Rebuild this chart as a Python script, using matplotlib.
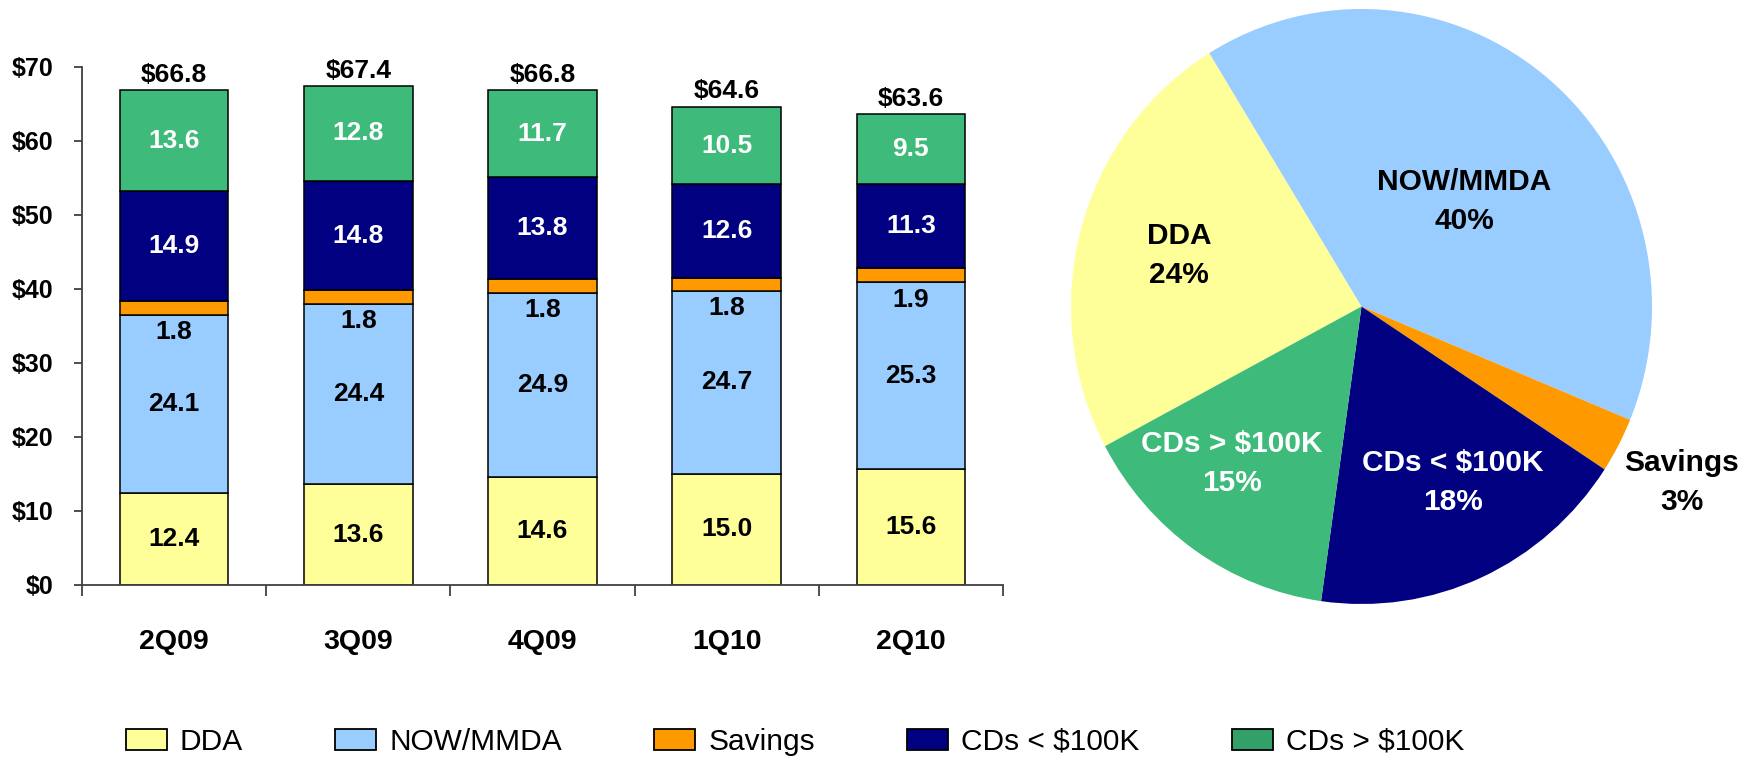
import matplotlib
matplotlib.use("Agg")
import matplotlib.pyplot as plt
from matplotlib.patches import Patch
import numpy as np

plt.rcParams['font.family'] = ['Liberation Sans', 'DejaVu Sans']

quarters = ["2Q09", "3Q09", "4Q09", "1Q10", "2Q10"]
series_names = ["DDA", "NOW/MMDA", "Savings", "CDs < $100K", "CDs > $100K"]
dda = [12.4, 13.6, 14.6, 15.0, 15.6]
now_mmda = [24.1, 24.4, 24.9, 24.7, 25.3]
savings = [1.8, 1.8, 1.8, 1.8, 1.9]
cds_small = [14.9, 14.8, 13.8, 12.6, 11.3]
cds_large = [13.6, 12.8, 11.7, 10.5, 9.5]
y_ticks = [0, 10, 20, 30, 40, 50, 60, 70]

pie_labels = ["DDA", "NOW/MMDA", "Savings", "CDs < $100K", "CDs > $100K"]
pie_pct = [24, 40, 3, 18, 15]

colors = ["#FFFF99", "#99CCFF", "#FF9900", "#000080", "#3EBB7B"]
legend_colors = ["#FFFF99", "#99CCFF", "#FF9900", "#000080", "#33A06A"]
text_colors = ["black", "black", "black", "white", "white"]

W, H = 1753, 763
fig = plt.figure(figsize=(W / 100, H / 100), dpi=100)

def px_axes(l, t, r, b):
    return fig.add_axes([l / W, 1 - b / H, (r - l) / W, (b - t) / H])

# ---------------- Bar chart ----------------
ax = px_axes(82, 66.7, 1003, 585)
series = [dda, now_mmda, savings, cds_small, cds_large]
x = np.arange(len(quarters))
bottom = np.zeros(len(quarters))
bw = 0.59
for i, vals in enumerate(series):
    vals = np.array(vals)
    ax.bar(x, vals, bw, bottom=bottom, color=colors[i], edgecolor="black",
           linewidth=1.1, zorder=2)
    for j in range(len(x)):
        if i == 2:
            # savings label sits just below the savings segment
            ax.annotate(f"{vals[j]:.1f}", (x[j], bottom[j]), xytext=(0, -12.5),
                        textcoords="offset points", ha="center", va="center",
                        fontsize=19, fontweight="bold", color="black", zorder=3)
        else:
            ax.text(x[j], bottom[j] + vals[j] / 2, f"{vals[j]:.1f}", ha="center",
                    va="center", fontsize=19, fontweight="bold",
                    color=text_colors[i], zorder=3)
    bottom = bottom + vals

for j in range(len(x)):
    ax.annotate(f"${bottom[j]:.1f}", (x[j], bottom[j]), xytext=(0, 11),
                textcoords="offset points", ha="center", va="center",
                fontsize=19, fontweight="bold", color="black")

ax.set_xlim(-0.5, len(quarters) - 0.5)
ax.set_ylim(0, 70)
ax.set_yticks(y_ticks)
ax.set_yticklabels([f"${v}" for v in y_ticks], fontsize=18, fontweight="bold")
ax.set_xticks(x)
ax.set_xticklabels(quarters, fontsize=20.5, fontweight="bold")
ax.set_xticks(np.arange(-0.5, len(quarters), 1.0), minor=True)
ax.tick_params(axis="x", which="major", length=0, pad=32)
ax.tick_params(axis="x", which="minor", length=8, width=1.3, color="#404040")
ax.tick_params(axis="y", length=5.5, width=1.3, color="#404040", pad=15)
for s in ["top", "right"]:
    ax.spines[s].set_visible(False)
for s in ["left", "bottom"]:
    ax.spines[s].set_color("#404040")
    ax.spines[s].set_linewidth(1.3)
ax.spines["bottom"].set_zorder(4)

# ---------------- Pie chart ----------------
pax = px_axes(1071, 9, 1652, 604)
wedges, _ = pax.pie(pie_pct, colors=colors, startangle=208, counterclock=False,
                    radius=1, wedgeprops=dict(linewidth=0))
pax.set_aspect("auto")
pax.set_xlim(-1, 1)
pax.set_ylim(-1, 1)
pax.axis("off")
label_r = [0.65, 0.50, 1.25, 0.67, 0.69]
label_dang = [0.0, -4.6, -0.4, 3.6, -5.3]
for w, name, pct, r, da, tc in zip(wedges, pie_labels, pie_pct, label_r,
                                   label_dang, text_colors):
    mid = np.deg2rad((w.theta1 + w.theta2) / 2 + da)
    pax.text(r * np.cos(mid), r * np.sin(mid), f"{name}\n{pct}%", ha="center",
             va="center", fontsize=21.5, fontweight="bold", color=tc,
             linespacing=1.5, clip_on=False)

# ---------------- Legend ----------------
handles = [Patch(facecolor=c, edgecolor="black", linewidth=1.3) for c in legend_colors]
fig.legend(handles, series_names, loc="center left",
           bbox_to_anchor=(126 / W, 1 - 742 / H), ncol=5, frameon=False,
           fontsize=21.5, handlelength=1.37, handleheight=0.74, handletextpad=0.43,
           columnspacing=3.1, borderpad=0, borderaxespad=0)

fig.savefig("out.png", dpi=100)
